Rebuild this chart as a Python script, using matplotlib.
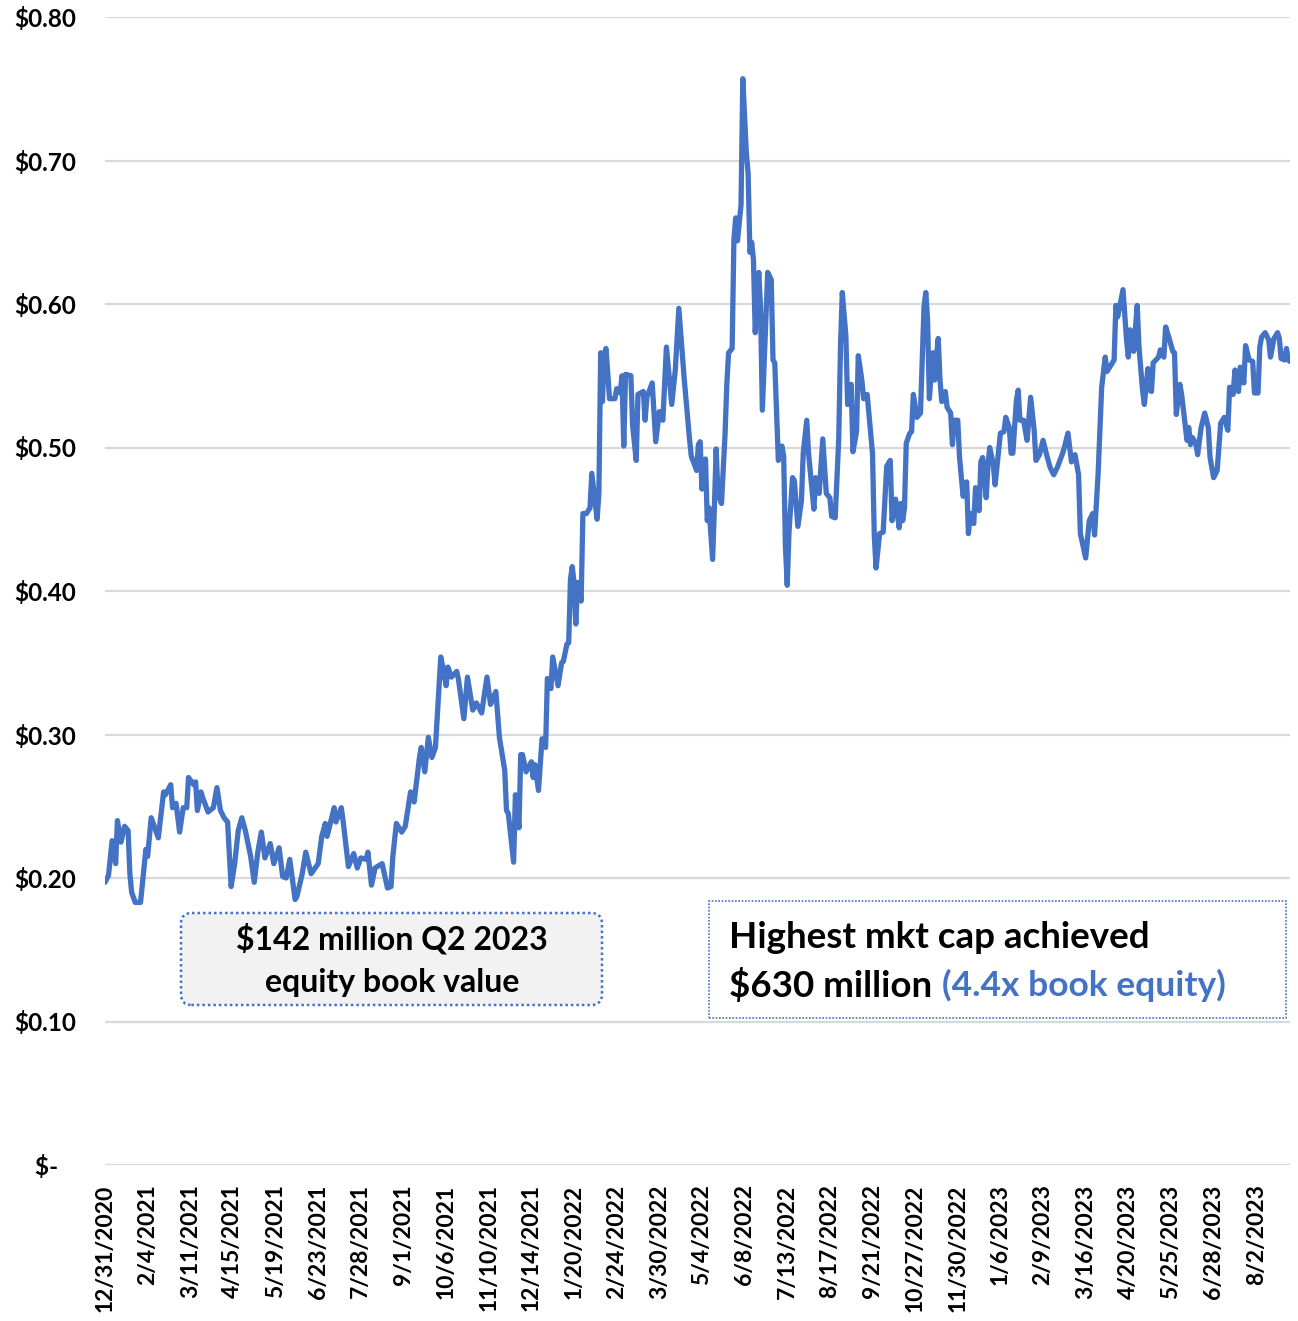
import matplotlib
matplotlib.use("Agg")
import matplotlib.pyplot as plt
from matplotlib.patches import FancyBboxPatch, Rectangle

plt.rcParams['font.family'] = ['Lato', 'DejaVu Sans']
plt.rcParams['font.weight'] = 'bold'

# trading-day index (0 = 12/31/2020) and closing price
day_idx = [0, 2, 4, 6, 7, 9, 11, 13, 14, 15, 17, 20, 23, 24, 26, 30, 33, 34, 37, 38,
           40, 42, 44, 46, 47, 50, 51, 52, 54, 55, 58, 61, 63, 65, 67, 69, 71, 73, 75, 77,
           79, 82, 84, 86, 88, 90, 93, 95, 98, 100, 102, 104, 107, 108, 111, 113, 116, 120, 122, 124,
           125, 129, 130, 133, 134, 137, 140, 142, 144, 147, 148, 150, 152, 156, 159, 161, 162, 164, 167, 169,
           172, 174, 177, 178, 180, 182, 184, 186, 189, 190, 192, 193, 195, 198, 199, 202, 204, 207, 209, 212,
           215, 217, 220, 222, 225, 226, 227, 230, 231, 233, 234, 235, 237, 240, 241, 242, 244, 246, 248, 249,
           251, 252, 255, 257, 258, 260, 261, 262, 263, 264, 265, 266, 268, 269, 271, 273, 274, 277, 278, 279,
           280, 281, 282, 284, 287, 288, 290, 291, 292, 293, 296, 297, 299, 300, 303, 304, 305, 308, 310, 312,
           314, 316, 319, 321, 323, 325, 326, 329, 330, 333, 334, 335, 336, 338, 339, 340, 342, 343, 344, 345,
           347, 349, 350, 351, 353, 354, 355, 356, 358, 359, 361, 362, 363, 364, 365, 366, 368, 369, 370, 373,
           375, 376, 377, 379, 381, 382, 383, 384, 385, 387, 388, 390, 392, 393, 395, 396, 399, 400, 402, 404,
           406, 408, 409, 411, 413, 414, 415, 417, 418, 420, 421, 423, 424, 426, 427, 429, 432, 433, 434, 436,
           438, 440, 442, 443, 445, 447, 448, 449, 450, 451, 453, 454, 455, 457, 459, 461, 462, 463, 464, 466,
           467, 468, 469, 470, 471, 473, 474, 476, 477, 478, 480, 481, 483, 485, 486, 487, 489, 490, 492, 493,
           494, 496, 497, 498, 500, 501, 504, 506, 507, 509, 510, 511, 513, 514, 515, 517, 519, 521, 523, 524,
           526, 528, 530, 532, 534, 536, 539, 540, 542, 544, 546, 548, 549, 552, 554, 556, 557, 559, 561, 563,
           564, 566, 568, 569, 570, 573, 575, 576, 577, 579, 581, 582, 584, 585, 587, 588, 589, 590, 593, 594,
           596, 597, 599, 601, 602, 603, 605, 606, 609, 610, 611, 612, 614, 615, 617, 619, 621, 622, 624, 626,
           628, 630, 632, 633, 635, 636, 638, 639, 641, 642, 644, 646, 647, 649, 650, 651, 653, 655, 656, 658,
           660, 661, 662, 664, 665, 666, 667]

price = [0.197, 0.202, 0.226, 0.210, 0.240, 0.225, 0.236, 0.233, 0.203, 0.190, 0.183, 0.183, 0.220, 0.215, 0.242, 0.228, 0.260, 0.258, 0.265, 0.249,
         0.252, 0.232, 0.249, 0.249, 0.270, 0.265, 0.267, 0.247, 0.260, 0.256, 0.246, 0.249, 0.263, 0.247, 0.242, 0.239, 0.194, 0.210, 0.233, 0.242,
         0.233, 0.215, 0.197, 0.218, 0.232, 0.214, 0.224, 0.210, 0.221, 0.201, 0.200, 0.213, 0.185, 0.187, 0.203, 0.218, 0.203, 0.210, 0.229, 0.238,
         0.229, 0.249, 0.239, 0.249, 0.240, 0.208, 0.217, 0.207, 0.214, 0.213, 0.218, 0.195, 0.207, 0.210, 0.193, 0.194, 0.215, 0.238, 0.232, 0.236,
         0.260, 0.253, 0.284, 0.291, 0.274, 0.298, 0.284, 0.291, 0.354, 0.348, 0.334, 0.347, 0.340, 0.344, 0.338, 0.311, 0.340, 0.317, 0.322, 0.315,
         0.340, 0.321, 0.330, 0.298, 0.275, 0.247, 0.245, 0.211, 0.258, 0.235, 0.286, 0.286, 0.274, 0.281, 0.270, 0.279, 0.261, 0.297, 0.291, 0.339,
         0.332, 0.354, 0.334, 0.350, 0.351, 0.363, 0.364, 0.408, 0.417, 0.406, 0.377, 0.406, 0.393, 0.454, 0.454, 0.458, 0.482, 0.450, 0.468, 0.566,
         0.532, 0.565, 0.569, 0.534, 0.534, 0.541, 0.538, 0.550, 0.501, 0.551, 0.550, 0.515, 0.491, 0.537, 0.539, 0.519, 0.535, 0.545, 0.504, 0.525,
         0.519, 0.570, 0.530, 0.554, 0.597, 0.565, 0.548, 0.506, 0.494, 0.484, 0.502, 0.504, 0.471, 0.492, 0.449, 0.458, 0.422, 0.458, 0.499, 0.468,
         0.461, 0.509, 0.544, 0.566, 0.569, 0.645, 0.660, 0.644, 0.669, 0.757, 0.705, 0.691, 0.636, 0.643, 0.631, 0.580, 0.622, 0.597, 0.526, 0.622,
         0.617, 0.561, 0.559, 0.491, 0.501, 0.494, 0.431, 0.404, 0.441, 0.479, 0.477, 0.445, 0.463, 0.496, 0.519, 0.496, 0.457, 0.479, 0.468, 0.506,
         0.468, 0.465, 0.452, 0.451, 0.506, 0.571, 0.608, 0.578, 0.530, 0.544, 0.497, 0.511, 0.564, 0.547, 0.534, 0.537, 0.496, 0.439, 0.416, 0.440,
         0.441, 0.487, 0.491, 0.449, 0.464, 0.444, 0.461, 0.449, 0.458, 0.503, 0.510, 0.511, 0.537, 0.521, 0.524, 0.598, 0.608, 0.589, 0.534, 0.566,
         0.547, 0.563, 0.576, 0.547, 0.532, 0.539, 0.528, 0.524, 0.502, 0.519, 0.519, 0.493, 0.466, 0.476, 0.440, 0.454, 0.447, 0.472, 0.456, 0.490,
         0.493, 0.465, 0.488, 0.500, 0.488, 0.474, 0.510, 0.511, 0.521, 0.514, 0.496, 0.496, 0.533, 0.540, 0.519, 0.519, 0.505, 0.535, 0.512, 0.491,
         0.495, 0.505, 0.495, 0.486, 0.481, 0.486, 0.496, 0.500, 0.510, 0.490, 0.495, 0.481, 0.440, 0.423, 0.449, 0.454, 0.439, 0.482, 0.542, 0.563,
         0.553, 0.557, 0.561, 0.599, 0.591, 0.610, 0.575, 0.563, 0.582, 0.567, 0.599, 0.570, 0.540, 0.530, 0.555, 0.540, 0.539, 0.559, 0.563, 0.568,
         0.563, 0.584, 0.576, 0.567, 0.566, 0.523, 0.544, 0.537, 0.505, 0.514, 0.502, 0.507, 0.503, 0.495, 0.514, 0.524, 0.514, 0.493, 0.479, 0.484,
         0.517, 0.521, 0.512, 0.542, 0.537, 0.554, 0.539, 0.556, 0.545, 0.571, 0.561, 0.560, 0.538, 0.538, 0.570, 0.577, 0.580, 0.575, 0.563, 0.576,
         0.580, 0.576, 0.562, 0.561, 0.569, 0.561, 0.560]

tick_labels = ['12/31/2020', '2/4/2021', '3/11/2021', '4/15/2021', '5/19/2021', '6/23/2021', '7/28/2021',
               '9/1/2021', '10/6/2021', '11/10/2021', '12/14/2021', '1/20/2022', '2/24/2022', '3/30/2022',
               '5/4/2022', '6/8/2022', '7/13/2022', '8/17/2022', '9/21/2022', '10/27/2022', '11/30/2022',
               '1/6/2023', '2/9/2023', '3/16/2023', '4/20/2023', '5/25/2023', '6/28/2023', '8/2/2023']
tick_step = 24  # one label every 24 trading days

y_ticks = [0.0, 0.1, 0.2, 0.3, 0.4, 0.5, 0.6, 0.7, 0.8]
y_labels = ['$-   ', '$0.10', '$0.20', '$0.30', '$0.40', '$0.50', '$0.60', '$0.70', '$0.80']

W, H = 1298, 1321
fig = plt.figure(figsize=(W / 100, H / 100), dpi=100)
ax = fig.add_axes([105 / W, 1 - 1165 / H, (1290 - 105) / W, (1165 - 17) / H])

blue = '#4472C4'
ax.plot(day_idx, price, color=blue, lw=3.8, solid_joinstyle='round', solid_capstyle='round', zorder=3)

ax.set_xlim(0, 667)
ax.set_ylim(0, 0.8)
ax.set_yticks(y_ticks)
ax.set_yticklabels(y_labels, fontsize=17.5, fontweight='bold')
ax.set_xticks([i * tick_step for i in range(len(tick_labels))])
ax.set_xticklabels(tick_labels, rotation=90, fontsize=16.5, fontweight='bold')
ax.tick_params(axis='both', length=0)
ax.tick_params(axis='y', pad=21)
ax.tick_params(axis='x', pad=14)
ax.grid(axis='y', color='#d9d9d9', lw=1.6)
ax.set_axisbelow(True)
for s in ax.spines.values():
    s.set_visible(False)


def fx(x):
    return x / W


def fy(y):
    return 1 - y / H


# left annotation box
b1 = FancyBboxPatch((fx(181), fy(1005)), fx(602) - fx(181), fy(913) - fy(1005),
                    boxstyle='round,pad=0,rounding_size=0.008', transform=fig.transFigure,
                    facecolor='#f2f2f2', edgecolor=blue, lw=1.8, ls=(0, (1, 1.2)), zorder=5)
fig.patches.append(b1)
fig.text(fx(392), fy(960), '$142 million Q2 2023\nequity book value', ha='center', va='center',
         fontsize=23, fontweight='bold', linespacing=1.58, zorder=6)

# right annotation box
b2 = Rectangle((fx(709), fy(1018)), fx(1286) - fx(709), fy(901) - fy(1018),
               transform=fig.transFigure, facecolor='white', edgecolor=blue, lw=1.2,
               ls=(0, (1, 1)), zorder=5)
fig.patches.append(b2)
fig.text(fx(729), fy(937), 'Highest mkt cap achieved', ha='left', va='center',
         fontsize=26.5, fontweight='bold', zorder=6)
t = fig.text(fx(729), fy(985), '$630 million', ha='left', va='center',
             fontsize=26.5, fontweight='bold', zorder=6)
r = fig.canvas.get_renderer()
bb = t.get_window_extent(renderer=r)
fig.text((bb.x1 + 10) / W, fy(985), '(4.4x book equity)', ha='left', va='center',
         fontsize=25.5, fontweight='bold', color=blue, zorder=6)

fig.savefig('out.png', dpi=100)
